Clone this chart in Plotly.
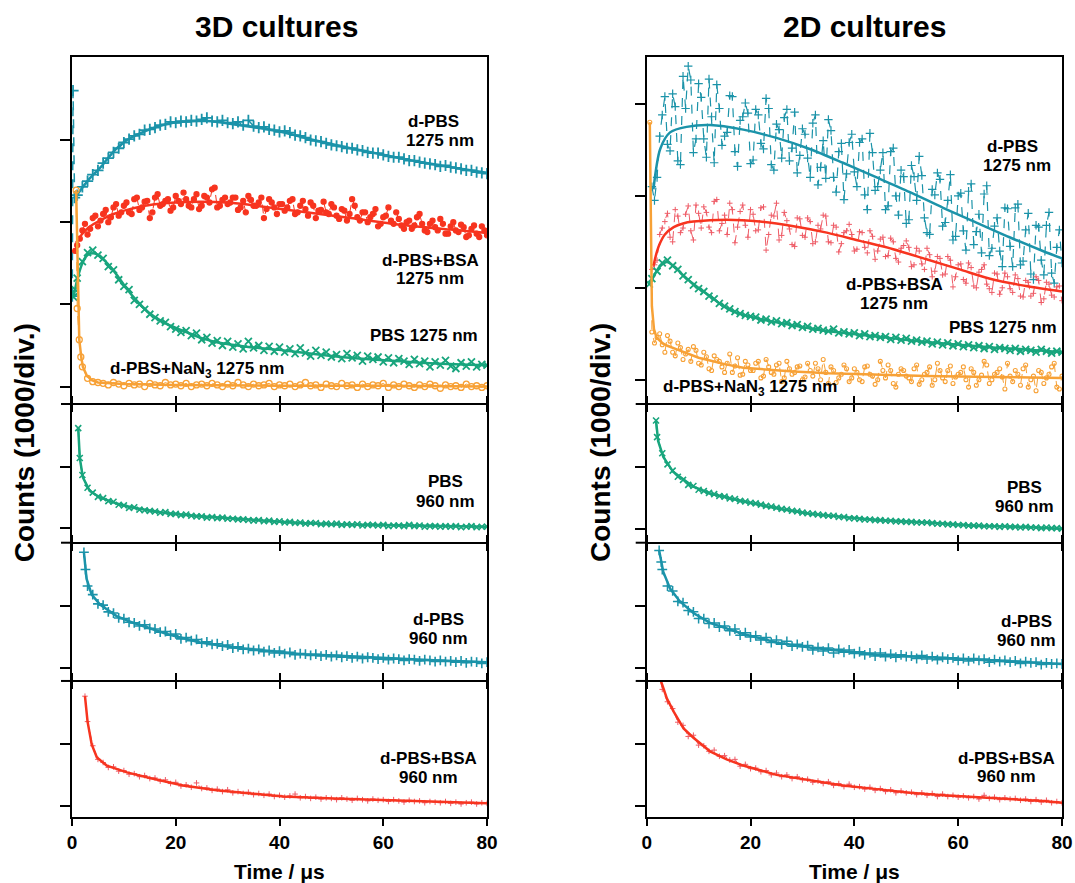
import plotly.graph_objects as go

# ---------------- sampling grids (µs) ----------------
T = list(range(1, 81))
TH = [0.5 + i for i in range(80)]

# ---------------- 3D cultures, 1275 nm ----------------
L_DPBS_E_X = [0.05, 0.2, 0.5]
L_DPBS_E_Y = [1.1, 3.6, 2.3]
L_DPBS = [2.33, 2.43, 2.50, 2.58, 2.63, 2.72, 2.78, 2.85, 2.90, 2.97,
          3.01, 3.05, 3.07, 3.12, 3.13, 3.15, 3.18, 3.19, 3.22, 3.21,
          3.23, 3.22, 3.24, 3.23, 3.25, 3.27, 3.23, 3.22, 3.24, 3.21,
          3.20, 3.22, 3.18, 3.24, 3.17, 3.15, 3.16, 3.13, 3.12, 3.10,
          3.11, 3.09, 3.06, 3.05, 3.03, 3.00, 2.99, 2.98, 2.96, 2.94,
          2.93, 2.92, 2.90, 2.90, 2.88, 2.87, 2.85, 2.84, 2.84, 2.82,
          2.80, 2.79, 2.79, 2.77, 2.75, 2.75, 2.73, 2.72, 2.71, 2.70,
          2.68, 2.69, 2.67, 2.66, 2.65, 2.63, 2.63, 2.61, 2.60, 2.59]
L_DPBS_FIT_X = [0.8, 2, 3.5, 5.4, 8, 10.6, 15, 19.5, 26, 32.4, 40.2, 47.2, 53.7, 60, 66.5, 73, 80]
L_DPBS_FIT_Y = [2.32, 2.42, 2.54, 2.66, 2.86, 3.0, 3.13, 3.21, 3.23, 3.18, 3.10, 2.99, 2.90, 2.82, 2.74, 2.67, 2.60]

L_BSA_E_X = [0.6]
L_BSA_E_Y = [1.65]
L_BSA = [1.72, 1.90, 1.85, 2.05, 1.95, 2.10, 2.00, 2.18, 2.08, 2.20,
         2.12, 2.28, 2.15, 2.25, 2.05, 2.30, 2.20, 2.26, 2.14, 2.32,
         2.22, 2.28, 2.18, 2.34, 2.20, 2.30, 2.40, 2.18, 2.27, 2.22,
         2.30, 2.15, 2.26, 2.32, 2.20, 2.24, 2.05, 2.28, 2.18, 2.22,
         2.14, 2.26, 2.10, 2.20, 2.16, 2.24, 2.05, 2.15, 2.12, 2.22,
         2.08, 2.16, 2.02, 2.28, 2.06, 2.12, 2.00, 2.10, 1.95, 2.06,
         2.18, 1.98, 2.04, 1.92, 2.02, 1.96, 2.10, 1.90, 1.98, 1.94,
         2.04, 1.86, 1.95, 1.90, 1.97, 1.82, 1.92, 1.86, 1.95, 1.84]
L_BSA_H = [None, 1.80, 1.98, 1.92, 2.08, 2.02, 2.15, 2.06, 2.22, 2.12,
           2.24, 2.10, 2.30, 2.18, 2.26, 2.12, 2.34, 2.22, 2.28, 2.18,
           2.26, 2.36, 2.20, 2.28, 2.16, 2.32, 2.24, 2.42, 2.20, 2.30,
           2.24, 2.30, 2.18, 2.12, 2.27, 2.20, 2.30, 2.16, 2.24, 2.10,
           2.22, 2.18, 2.28, 2.12, 2.26, 2.08, 2.20, 2.14, 2.25, 2.10,
           2.18, 2.04, 2.14, 2.10, 2.20, 2.02, 2.12, 2.06, 2.16, 1.98,
           2.08, 2.02, 2.12, 1.96, 2.00, 1.92, 2.06, 1.98, 1.88, 2.02,
           1.90, 1.98, 1.86, 2.00, 1.88, 1.94, 1.84, 1.96, 1.82, 1.90]
L_BSA_FIT_X = [0.8, 2, 3.5, 5.4, 8, 10.6, 15, 20, 24.7, 30, 34.4, 44, 53.7, 63.3, 73, 80]
L_BSA_FIT_Y = [1.75, 1.86, 1.95, 2.02, 2.10, 2.15, 2.21, 2.24, 2.25, 2.24, 2.21, 2.13, 2.05, 1.97, 1.91, 1.87]

L_PBS_E_X = [0.3, 0.6]
L_PBS_E_Y = [1.09, 1.18]
L_PBS = [1.32, 1.52, 1.63, 1.66, 1.60, 1.56, 1.46, 1.42, 1.30, 1.22,
         1.18, 1.05, 1.00, 0.94, 0.88, 0.84, 0.80, 0.78, 0.73, 0.70,
         0.66, 0.68, 0.62, 0.65, 0.57, 0.60, 0.53, 0.56, 0.50, 0.55,
         0.48, 0.52, 0.46, 0.55, 0.47, 0.50, 0.44, 0.49, 0.43, 0.48,
         0.42, 0.46, 0.40, 0.47, 0.41, 0.37, 0.44, 0.38, 0.42, 0.36,
         0.39, 0.34, 0.40, 0.35, 0.38, 0.31, 0.37, 0.33, 0.36, 0.30,
         0.35, 0.29, 0.34, 0.31, 0.27, 0.33, 0.28, 0.31, 0.24, 0.30,
         0.26, 0.32, 0.25, 0.22, 0.29, 0.25, 0.30, 0.24, 0.27, 0.26]
L_PBS_FIT_X = [0.3, 1, 2, 3, 4.4, 6, 7.9, 10, 11.7, 15, 18, 21.4, 25, 27.9, 34.4, 40.8, 50.5, 60.2, 70, 80]
L_PBS_FIT_Y = [1.09, 1.30, 1.50, 1.60, 1.62, 1.55, 1.42, 1.24, 1.10, 0.89, 0.77, 0.68, 0.59, 0.54, 0.48, 0.44, 0.37, 0.32, 0.28, 0.26]

L_NAN3_E_X = [0.8, 1.4, 1.7]
L_NAN3_E_Y = [2.39, 0.57, 0.36]
L_NAN3 = [0.95, 0.24, 0.10, 0.06, 0.05, 0.04, 0.02, 0.05, 0.03, 0.01,
          0.04, 0.02, 0.03, 0.00, 0.04, 0.02, 0.01, 0.05, 0.02, 0.03,
          0.01, 0.04, 0.00, 0.02, 0.03, 0.01, 0.04, 0.02, 0.00, 0.03,
          0.01, 0.05, 0.02, 0.00, 0.03, 0.01, 0.02, 0.04, 0.00, 0.02,
          0.01, 0.03, 0.00, 0.02, 0.05, 0.01, 0.02, -0.01, 0.03, 0.01,
          0.00, 0.04, 0.01, 0.02, -0.01, 0.03, 0.00, 0.02, 0.01, 0.04,
          -0.01, 0.02, 0.00, 0.03, 0.01, -0.01, 0.02, 0.00, 0.03, 0.01,
          -0.02, 0.02, 0.00, 0.01, -0.01, 0.03, 0.00, 0.01, -0.01, 0.01]
L_NAN3_FIT_X = [0.8, 1.1, 1.4, 1.8, 2.1, 2.8, 3.7, 5, 7, 10, 20, 40, 60, 80]
L_NAN3_FIT_Y = [2.39, 1.2, 0.57, 0.35, 0.24, 0.14, 0.08, 0.05, 0.04, 0.03, 0.02, 0.01, 0.01, 0.0]

# ---------------- 2D cultures, 1275 nm ----------------
R_DPBS = [2.10, 2.20, 2.88, 2.56, 3.11, 2.38, 3.30, 3.41, 2.47, 3.22,
          2.62, 3.27, 2.36, 2.95, 2.65, 3.09, 2.48, 2.82, 3.01, 2.35,
          2.94, 2.57, 3.06, 2.34, 2.78, 2.41, 2.94, 2.52, 2.25, 2.73,
          2.41, 2.79, 2.12, 2.60, 2.83, 2.20, 2.48, 1.96, 2.58, 2.26,
          2.58, 2.01, 2.68, 2.06, 2.28, 1.85, 2.48, 2.00, 2.28, 1.70,
          2.33, 1.95, 2.22, 1.60, 2.07, 2.25, 1.67, 1.95, 1.52, 2.00,
          1.62, 2.05, 1.47, 1.80, 2.02, 1.35, 1.67, 1.40, 1.87, 1.45,
          1.87, 1.25, 1.63, 1.15, 1.68, 1.30, 1.68, 1.16, 1.44, 1.27]
R_DPBS_H = [None, 1.95, 2.65, 3.08, 2.49, 2.97, 2.34, 2.95, 3.26, 2.62,
            3.07, 2.42, 2.86, 3.21, 2.55, 2.69, 3.08, 2.32, 2.86, 2.90,
            2.39, 2.88, 2.51, 2.95, 2.28, 2.72, 2.85, 2.38, 2.91, 2.44,
            2.67, 2.20, 2.88, 2.31, 2.19, 2.71, 2.04, 2.57, 2.24, 2.67,
            2.10, 2.62, 1.85, 2.47, 2.10, 2.47, 1.89, 2.52, 1.79, 2.21,
            1.74, 2.21, 2.43, 1.76, 1.58, 2.01, 2.18, 1.71, 2.23, 1.56,
            2.03, 1.41, 2.13, 1.61, 1.38, 2.11, 1.43, 1.76, 1.23, 1.86,
            1.23, 1.91, 1.29, 1.81, 1.09, 1.66, 1.14, 1.82, 1.05, 1.63]
R_DPBS_FIT_X = [1.3, 2.6, 4.5, 7.7, 12.2, 18.6, 25, 31.4, 37.8, 44.3, 50.7, 57.1, 63.5, 69.9, 76.3, 80]
R_DPBS_FIT_Y = [2.07, 2.51, 2.69, 2.75, 2.77, 2.72, 2.63, 2.51, 2.36, 2.20, 2.04, 1.87, 1.71, 1.55, 1.40, 1.32]

R_BSA = [1.20, 1.30, 1.65, 1.81, 1.50, 1.78, 1.65, 1.89, 1.52, 1.81,
         1.88, 1.66, 1.94, 1.62, 1.79, 1.92, 1.49, 1.83, 1.68, 1.85,
         1.62, 1.87, 1.41, 1.79, 1.92, 1.57, 1.73, 1.47, 1.76, 1.57,
         1.76, 1.48, 1.68, 1.79, 1.50, 1.68, 1.39, 1.60, 1.69, 1.40,
         1.61, 1.44, 1.62, 1.31, 1.53, 1.34, 1.54, 1.32, 1.43, 1.51,
         1.23, 1.43, 1.26, 1.43, 1.12, 1.34, 1.14, 1.34, 1.01, 1.25,
         1.09, 1.27, 1.02, 1.17, 1.25, 0.99, 1.16, 0.93, 1.16, 0.99,
         1.14, 0.91, 1.08, 0.91, 1.12, 0.84, 1.06, 0.92, 1.01, 0.86]
R_BSA_H = [None, 1.25, 1.58, 1.72, 1.55, 1.85, 1.60, 1.80, 1.62, 1.90,
           1.65, 1.82, 1.60, 1.96, 1.70, 1.58, 1.85, 1.66, 1.90, 1.55,
           1.80, 1.63, 1.88, 1.58, 1.78, 1.52, 1.82, 1.64, 1.45, 1.75,
           1.55, 1.72, 1.50, 1.64, 1.78, 1.49, 1.66, 1.48, 1.62, 1.58,
           1.42, 1.60, 1.38, 1.56, 1.40, 1.55, 1.35, 1.50, 1.28, 1.46,
           1.44, 1.25, 1.40, 1.20, 1.36, 1.18, 1.32, 1.15, 1.30, 1.12,
           1.26, 1.05, 1.22, 1.00, 1.20, 1.04, 0.95, 1.15, 1.00, 1.12,
           0.95, 1.10, 0.90, 1.06, 0.94, 1.08, 0.88, 1.04, 0.90, 1.02]
R_BSA_FIT_X = [1.3, 2.0, 2.6, 3.5, 5.2, 7, 9.0, 15.4, 21.8, 28.3, 34.7, 41.1, 47.5, 53.9, 60.3, 66.7, 73.1, 80]
R_BSA_FIT_Y = [1.24, 1.40, 1.49, 1.58, 1.66, 1.70, 1.72, 1.74, 1.72, 1.67, 1.60, 1.51, 1.42, 1.31, 1.20, 1.09, 1.02, 0.96]

R_PBS_E_X = [0.5]
R_PBS_E_Y = [1.04]
R_PBS = [1.10, 1.18, 1.27, 1.30, 1.24, 1.20, 1.13, 1.09, 1.03, 0.99,
         0.96, 0.91, 0.88, 0.83, 0.80, 0.77, 0.74, 0.72, 0.70, 0.69,
         0.68, 0.65, 0.66, 0.63, 0.64, 0.61, 0.62, 0.59, 0.60, 0.57,
         0.58, 0.55, 0.56, 0.54, 0.53, 0.55, 0.51, 0.52, 0.50, 0.51,
         0.48, 0.50, 0.47, 0.48, 0.46, 0.47, 0.44, 0.46, 0.43, 0.45,
         0.42, 0.43, 0.41, 0.42, 0.39, 0.41, 0.38, 0.40, 0.37, 0.39,
         0.36, 0.38, 0.35, 0.37, 0.34, 0.36, 0.33, 0.35, 0.34, 0.32,
         0.34, 0.31, 0.33, 0.32, 0.30, 0.33, 0.31, 0.29, 0.31, 0.30]
R_PBS_FIT_X = [0.5, 1.3, 2.5, 3.9, 5.5, 7.7, 10, 12.2, 14.5, 16.7, 21.8, 28.3, 34.7, 41.1, 47.5, 53.9, 60.3, 66.7, 73.1, 80]
R_PBS_FIT_Y = [1.04, 1.12, 1.23, 1.28, 1.22, 1.10, 1.00, 0.91, 0.81, 0.74, 0.66, 0.59, 0.53, 0.49, 0.45, 0.41, 0.38, 0.35, 0.33, 0.30]

R_NAN3_E_X = [0.6]
R_NAN3_E_Y = [2.8]
R_NAN3 = [0.52, 0.46, 0.38, 0.48, 0.30, 0.40, 0.22, 0.33, 0.36, 0.18,
          0.30, 0.12, 0.26, 0.20, 0.08, 0.28, 0.15, 0.05, 0.20, 0.10,
          0.18, 0.02, 0.22, 0.08, 0.16, -0.02, 0.20, 0.06, 0.14, 0.00,
          0.18, 0.04, 0.12, 0.22, -0.04, 0.10, 0.02, 0.16, -0.02, 0.12,
          0.00, 0.14, 0.06, -0.05, 0.20, 0.02, 0.10, -0.08, 0.12, 0.04,
          -0.02, 0.16, 0.00, 0.08, -0.06, 0.18, 0.02, 0.10, -0.04, 0.06,
          0.14, -0.08, 0.08, 0.00, 0.20, -0.04, 0.06, 0.12, -0.10, 0.04,
          0.10, -0.06, 0.16, 0.00, -0.12, 0.08, 0.02, 0.14, -0.08, 0.04]
R_NAN3_H = [None, 0.40, 0.50, 0.30, 0.42, 0.26, 0.35, 0.28, 0.20, 0.32,
            0.16, 0.25, 0.10, 0.22, 0.14, 0.18, 0.08, 0.24, 0.06, 0.16,
            0.10, 0.20, 0.04, 0.14, 0.06, 0.18, 0.02, 0.12, 0.08, 0.15,
            0.03, 0.10, 0.18, 0.00, 0.08, 0.14, -0.03, 0.06, 0.12, 0.02,
            0.08, -0.02, 0.15, 0.04, 0.00, 0.10, 0.16, -0.04, 0.06, 0.10,
            0.02, 0.12, -0.05, 0.06, 0.14, 0.00, 0.10, -0.02, 0.15, 0.03,
            0.08, 0.00, 0.12, -0.06, 0.05, 0.16, 0.00, 0.08, 0.03, 0.18,
            -0.02, 0.06, 0.12, -0.08, 0.04, 0.10, -0.04, 0.06, 0.18, -0.10]
R_NAN3_FIT_X = [0.6, 0.8, 1.0, 1.4, 1.9, 3, 4, 5.8, 8, 10, 12.2, 15, 18.6, 23, 28.3, 35, 41.1, 53.9, 66.7, 80]
R_NAN3_FIT_Y = [2.80, 1.5, 0.80, 0.55, 0.46, 0.40, 0.37, 0.33, 0.28, 0.24, 0.21, 0.17, 0.13, 0.11, 0.09, 0.07, 0.06, 0.04, 0.03, 0.02]

# ---------------- 960 nm panels ----------------
L_PBS960_E_X = [1.2, 1.5]
L_PBS960_E_Y = [1.64, 1.15]
L_PBS960 = [None, 0.87, 0.66, 0.58, 0.51, 0.49, 0.44, 0.43, 0.38, 0.37,
            0.33, 0.34, 0.30, 0.29, 0.28, 0.27, 0.25, 0.26, 0.23, 0.23,
            0.21, 0.22, 0.20, 0.19, 0.19, 0.17, 0.18, 0.16, 0.17, 0.15,
            0.15, 0.14, 0.14, 0.13, 0.12, 0.13, 0.11, 0.12, 0.10, 0.11,
            0.09, 0.10, 0.08, 0.09, 0.07, 0.08, 0.08, 0.06, 0.07, 0.06,
            0.07, 0.05, 0.06, 0.05, 0.06, 0.04, 0.05, 0.05, 0.04, 0.05,
            0.03, 0.04, 0.04, 0.03, 0.05, 0.03, 0.04, 0.02, 0.03, 0.03,
            0.02, 0.03, 0.02, 0.03, 0.01, 0.02, 0.03, 0.01, 0.02, 0.02]
L_PBS960_FIT_X = [1.2, 1.5, 2.1, 3.4, 5.4, 8.6, 11.8, 18.3, 24.7, 31.1, 37.6, 44, 50.5, 63.3, 80]
L_PBS960_FIT_Y = [1.64, 1.15, 0.83, 0.61, 0.50, 0.40, 0.33, 0.24, 0.19, 0.15, 0.11, 0.08, 0.06, 0.04, 0.02]

R_PBS960_E_X = [1.8]
R_PBS960_E_Y = [1.75]
R_PBS960 = [None, 1.48, 1.22, 1.04, 0.94, 0.84, 0.79, 0.71, 0.69, 0.63,
            0.61, 0.58, 0.56, 0.53, 0.52, 0.49, 0.48, 0.45, 0.44, 0.42,
            0.41, 0.39, 0.37, 0.36, 0.34, 0.32, 0.31, 0.29, 0.28, 0.26,
            0.25, 0.24, 0.23, 0.22, 0.21, 0.21, 0.19, 0.19, 0.17, 0.17,
            0.16, 0.15, 0.15, 0.14, 0.14, 0.13, 0.13, 0.12, 0.12, 0.11,
            0.11, 0.10, 0.10, 0.10, 0.09, 0.08, 0.08, 0.07, 0.07, 0.06,
            0.06, 0.05, 0.05, 0.05, 0.04, 0.04, 0.04, 0.03, 0.04, 0.03,
            0.03, 0.02, 0.03, 0.02, 0.02, 0.01, 0.02, 0.01, 0.01, 0.00]
R_PBS960_FIT_X = [1.8, 2.2, 3.2, 5.1, 9.0, 12.2, 18.6, 25, 31.4, 37.8, 44.3, 53.9, 63.5, 73.1, 80]
R_PBS960_FIT_Y = [1.75, 1.42, 1.16, 0.92, 0.68, 0.57, 0.44, 0.33, 0.24, 0.19, 0.14, 0.10, 0.05, 0.03, 0.00]

L_DPBS960_E_X = [2.3, 2.6]
L_DPBS960_E_Y = [1.88, 1.60]
L_DPBS960 = [None, None, 1.33, 1.19, 1.04, 1.02, 0.91, 0.89, 0.81, 0.80,
             0.74, 0.73, 0.68, 0.70, 0.64, 0.63, 0.58, 0.59, 0.53, 0.55,
             0.47, 0.49, 0.44, 0.46, 0.40, 0.42, 0.38, 0.39, 0.35, 0.37,
             0.32, 0.34, 0.30, 0.31, 0.28, 0.30, 0.26, 0.28, 0.24, 0.27,
             0.23, 0.25, 0.21, 0.23, 0.22, 0.20, 0.22, 0.19, 0.21, 0.18,
             0.20, 0.17, 0.19, 0.16, 0.18, 0.15, 0.17, 0.16, 0.14, 0.16,
             0.13, 0.15, 0.14, 0.12, 0.14, 0.13, 0.11, 0.13, 0.12, 0.10,
             0.12, 0.10, 0.11, 0.09, 0.11, 0.08, 0.10, 0.09, 0.07, 0.09]
L_DPBS960_FIT_X = [2.3, 2.8, 3.8, 5.4, 8.6, 11.8, 18.3, 24.7, 31.1, 37.6, 44, 50.5, 56.9, 63.3, 69.8, 80]
L_DPBS960_FIT_Y = [1.88, 1.45, 1.19, 1.03, 0.84, 0.73, 0.55, 0.41, 0.33, 0.27, 0.22, 0.20, 0.17, 0.14, 0.12, 0.09]

R_DPBS960_E_X = [2.4, 2.8]
R_DPBS960_E_Y = [1.91, 1.72]
R_DPBS960 = [None, None, 1.60, 1.33, 1.25, 1.08, 1.06, 0.93, 0.91, 0.80,
             0.80, 0.72, 0.73, 0.66, 0.68, 0.60, 0.63, 0.53, 0.57, 0.50,
             0.52, 0.45, 0.49, 0.41, 0.45, 0.38, 0.43, 0.35, 0.38, 0.34,
             0.36, 0.29, 0.33, 0.27, 0.32, 0.24, 0.30, 0.25, 0.29, 0.23,
             0.26, 0.21, 0.24, 0.19, 0.24, 0.18, 0.22, 0.17, 0.21, 0.18,
             0.19, 0.15, 0.20, 0.14, 0.18, 0.13, 0.17, 0.14, 0.16, 0.12,
             0.15, 0.11, 0.15, 0.12, 0.14, 0.09, 0.13, 0.10, 0.12, 0.09,
             0.11, 0.07, 0.10, 0.08, 0.09, 0.05, 0.08, 0.06, 0.07, 0.06]
R_DPBS960_FIT_X = [2.4, 3.2, 4.5, 6.4, 9.0, 12.2, 18.6, 25, 31.4, 37.8, 44.3, 53.9, 63.5, 73.1, 80]
R_DPBS960_FIT_Y = [1.91, 1.56, 1.29, 1.08, 0.89, 0.73, 0.55, 0.41, 0.33, 0.27, 0.21, 0.17, 0.13, 0.09, 0.06]

L_BSA960_E_X = [2.5]
L_BSA960_E_Y = [1.77]
L_BSA960 = [None, None, 1.36, 0.97, 0.75, 0.70, 0.62, 0.63, 0.56, 0.57,
            0.51, 0.52, 0.47, 0.49, 0.44, 0.45, 0.40, 0.42, 0.36, 0.38,
            0.32, 0.34, 0.30, 0.37, 0.28, 0.29, 0.25, 0.27, 0.23, 0.26,
            0.21, 0.23, 0.20, 0.22, 0.18, 0.20, 0.17, 0.19, 0.15, 0.17,
            0.14, 0.16, 0.19, 0.13, 0.15, 0.12, 0.14, 0.11, 0.13, 0.12,
            0.10, 0.13, 0.11, 0.09, 0.12, 0.10, 0.08, 0.11, 0.09, 0.10,
            0.07, 0.10, 0.08, 0.06, 0.09, 0.07, 0.08, 0.05, 0.07, 0.06,
            0.05, 0.07, 0.04, 0.06, 0.03, 0.05, 0.06, 0.03, 0.05, 0.04]
L_BSA960_FIT_X = [2.5, 3.0, 3.8, 4.8, 6.7, 10.6, 15, 21.4, 27.9, 34.4, 40.8, 50.5, 60.2, 70, 80]
L_BSA960_FIT_Y = [1.77, 1.36, 0.99, 0.78, 0.65, 0.54, 0.45, 0.33, 0.25, 0.20, 0.15, 0.12, 0.09, 0.06, 0.04]

R_BSA960_E_X = [2.6]
R_BSA960_E_Y = [2.05]
R_BSA960 = [None, None, 1.88, 1.68, 1.57, 1.35, 1.30, 1.12, 1.14, 0.98,
            0.97, 0.88, 0.90, 0.80, 0.81, 0.74, 0.75, 0.64, 0.67, 0.60,
            0.61, 0.55, 0.57, 0.50, 0.53, 0.47, 0.50, 0.44, 0.47, 0.42,
            0.43, 0.38, 0.40, 0.36, 0.39, 0.33, 0.36, 0.31, 0.35, 0.30,
            0.31, 0.27, 0.30, 0.25, 0.28, 0.23, 0.26, 0.21, 0.24, 0.21,
            0.22, 0.18, 0.21, 0.17, 0.20, 0.15, 0.19, 0.15, 0.17, 0.14,
            0.16, 0.13, 0.15, 0.11, 0.17, 0.12, 0.14, 0.10, 0.13, 0.11,
            0.12, 0.09, 0.11, 0.07, 0.10, 0.06, 0.09, 0.05, 0.07, 0.05]
R_BSA960_FIT_X = [2.6, 3.9, 5.2, 7.1, 9.0, 12.2, 15.4, 18.6, 25, 31.4, 37.8, 44.3, 50.7, 57.1, 63.5, 69.9, 76.3, 80]
R_BSA960_FIT_Y = [2.05, 1.73, 1.52, 1.25, 1.10, 0.88, 0.75, 0.65, 0.50, 0.41, 0.33, 0.27, 0.21, 0.17, 0.14, 0.12, 0.08, 0.05]

X_TICKS = [0, 20, 40, 60, 80]

# ---------------- styling ----------------
TEAL = "#1b93a9"
RED = "#f7341f"
RED_LIGHT = "#ee5b66"
GREEN = "#18a57d"
ORANGE = "#f7a136"
FONT = "Liberation Sans"


def merged(ex, ey, grid, half=None):
    assert len(grid) == len(T), len(grid)
    xs = list(ex) + T
    ys = list(ey) + list(grid)
    if half is not None:
        assert len(half) == len(TH), len(half)
        xs += TH
        ys += list(half)
    pts = sorted([(x, y) for x, y in zip(xs, ys) if y is not None], key=lambda p: p[0])
    return [p[0] for p in pts], [p[1] for p in pts]


fig = go.Figure()


def add_data(n, ex, ey, grid, color, symbol, size, lw=1.3, dash="dash", dlw=1.0, half=None):
    xs, ys = merged(ex, ey, grid, half)
    fig.add_trace(go.Scatter(
        x=xs, y=ys, mode="lines+markers", xaxis=f"x{n}", yaxis=f"y{n}",
        line=dict(color=color, width=dlw, dash=dash),
        marker=dict(symbol=symbol, size=size, color=color, line=dict(color=color, width=lw)),
        showlegend=False, hoverinfo="skip"))


def add_fit(n, fx, fy, color, width=2.5, shape="spline"):
    fig.add_trace(go.Scatter(
        x=fx, y=fy, mode="lines", xaxis=f"x{n}", yaxis=f"y{n}",
        line=dict(color=color, width=width, shape=shape, smoothing=0.8),
        showlegend=False, hoverinfo="skip"))


# Left column (3D)
add_data(1, L_DPBS_E_X, L_DPBS_E_Y, L_DPBS, TEAL, "cross-thin", 8, 1.8, dlw=1.5)
add_fit(1, L_DPBS_FIT_X, L_DPBS_FIT_Y, TEAL)
add_data(1, L_BSA_E_X, L_BSA_E_Y, L_BSA, RED, "circle", 5, half=L_BSA_H)
add_fit(1, L_BSA_FIT_X, L_BSA_FIT_Y, RED)
add_data(1, L_PBS_E_X, L_PBS_E_Y, L_PBS, GREEN, "x-thin", 7, 1.8, dlw=1.5)
add_fit(1, L_PBS_FIT_X, L_PBS_FIT_Y, GREEN)
add_data(1, L_NAN3_E_X, L_NAN3_E_Y, L_NAN3, ORANGE, "circle-open", 6, 1.3)
add_fit(1, L_NAN3_FIT_X, L_NAN3_FIT_Y, ORANGE, shape="linear")

add_data(2, L_PBS960_E_X, L_PBS960_E_Y, L_PBS960, GREEN, "x-thin", 6, 1.6, dlw=1.5)
add_fit(2, L_PBS960_FIT_X, L_PBS960_FIT_Y, GREEN, shape="linear")
add_data(3, L_DPBS960_E_X, L_DPBS960_E_Y, L_DPBS960, TEAL, "cross-thin", 7, 1.6, dlw=1.5)
add_fit(3, L_DPBS960_FIT_X, L_DPBS960_FIT_Y, TEAL, shape="linear")
add_data(4, L_BSA960_E_X, L_BSA960_E_Y, L_BSA960, RED_LIGHT, "cross-thin", 4, 1.0)
add_fit(4, L_BSA960_FIT_X, L_BSA960_FIT_Y, RED, shape="linear")

# Right column (2D)
add_data(5, [], [], R_DPBS, TEAL, "cross-thin", 6, 1.2, dlw=1.2, half=R_DPBS_H)
add_fit(5, R_DPBS_FIT_X, R_DPBS_FIT_Y, TEAL)
add_data(5, [], [], R_BSA, RED_LIGHT, "cross-thin", 4, 1.0, half=R_BSA_H)
add_fit(5, R_BSA_FIT_X, R_BSA_FIT_Y, RED)
add_data(5, R_PBS_E_X, R_PBS_E_Y, R_PBS, GREEN, "x-thin", 7, 1.8, dlw=1.5)
add_fit(5, R_PBS_FIT_X, R_PBS_FIT_Y, GREEN)
add_data(5, R_NAN3_E_X, R_NAN3_E_Y, R_NAN3, ORANGE, "circle-open", 4, 1.1, half=R_NAN3_H)
add_fit(5, R_NAN3_FIT_X, R_NAN3_FIT_Y, ORANGE, shape="linear")

add_data(6, R_PBS960_E_X, R_PBS960_E_Y, R_PBS960, GREEN, "x-thin", 6, 1.6, dlw=1.5)
add_fit(6, R_PBS960_FIT_X, R_PBS960_FIT_Y, GREEN, shape="linear")
add_data(7, R_DPBS960_E_X, R_DPBS960_E_Y, R_DPBS960, TEAL, "cross-thin", 7, 1.5)
add_fit(7, R_DPBS960_FIT_X, R_DPBS960_FIT_Y, TEAL, shape="linear")
add_data(8, R_BSA960_E_X, R_BSA960_E_Y, R_BSA960, RED_LIGHT, "cross-thin", 4, 1.0)
add_fit(8, R_BSA960_FIT_X, R_BSA960_FIT_Y, RED, shape="linear")

# ---------------- axes ----------------
XDOM_L = [0.0, 0.4192]
XDOM_R = [0.5805, 1.0]
GAP = 0.0026
YDOMS = [[0.5447, 1.0], [0.3622, 0.5447 - GAP], [0.1803, 0.3622 - GAP], [0.0, 0.1803 - GAP]]
YRANGES = {1: [-0.2, 4.01], 2: [-0.227, 2.02], 3: [-0.2, 2.02], 4: [-0.18, 2.0],
           5: [-0.253, 3.51], 6: [-0.21, 2.0], 7: [-0.2, 2.02], 8: [-0.18, 2.0]}

layout_axes = {}
for n in range(1, 9):
    col = 0 if n <= 4 else 1
    row = (n - 1) % 4
    layout_axes[f"xaxis{n}"] = dict(
        domain=XDOM_L if col == 0 else XDOM_R, anchor=f"y{n}", range=[0, 80],
        tickvals=X_TICKS, ticks="outside", ticklen=7, tickwidth=2, tickcolor="black",
        showticklabels=(row == 3), showline=True, linewidth=2, linecolor="black",
        mirror=True if row == 0 else "ticks", showgrid=False, zeroline=False,
        tickfont=dict(family=FONT, size=19, color="black", weight="bold"))
    top = 3 if row == 0 else 1
    layout_axes[f"yaxis{n}"] = dict(
        domain=YDOMS[row], anchor=f"x{n}", range=YRANGES[n],
        tickvals=list(range(0, top + 1)), ticks="outside", ticklen=10, tickwidth=2,
        tickcolor="black", showticklabels=False, showline=True, linewidth=2,
        linecolor="black", mirror=True, showgrid=False, zeroline=False)

fig.update_layout(**layout_axes)

# boundary ticks on the left of each column
shapes = []
for x0 in (XDOM_L[0], XDOM_R[0]):
    for yb in (0.5447 - GAP / 2, 0.3622 - GAP / 2, 0.1803 - GAP / 2):
        shapes.append(dict(type="line", xref="paper", yref="paper",
                           x0=x0 - 0.0111, x1=x0, y0=yb, y1=yb,
                           line=dict(color="black", width=2)))

# ---------------- text ----------------
ann = []


def label(n, x, y, text, size=17):
    ann.append(dict(x=x, y=y, xref=f"x{n}", yref=f"y{n}", text=f"<b>{text}</b>",
                    showarrow=False, font=dict(family=FONT, size=size, color="black"),
                    xanchor="center", yanchor="middle"))


label(1, 69.7, 3.22, "d-PBS")
label(1, 71.0, 3.00, "1275 nm")
label(1, 69.1, 1.54, "d-PBS+BSA")
label(1, 69.1, 1.31, "1275 nm")
label(1, 67.8, 0.62, "PBS 1275 nm")
label(1, 24.1, 0.20, "d-PBS+NaN<sub>3</sub> 1275 nm")
label(2, 72.0, 0.76, "PBS")
label(2, 72.0, 0.43, "960 nm")
label(3, 70.7, 0.78, "d-PBS")
label(3, 70.7, 0.47, "960 nm")
label(4, 68.8, 0.77, "d-PBS+BSA")
label(4, 68.8, 0.46, "960 nm")

label(5, 70.5, 2.54, "d-PBS")
label(5, 71.3, 2.33, "1275 nm")
label(5, 47.8, 1.04, "d-PBS+BSA")
label(5, 47.6, 0.83, "1275 nm")
label(5, 68.6, 0.57, "PBS 1275 nm")
label(5, 19.9, -0.09, "d-PBS+NaN<sub>3</sub> 1275 nm")
label(6, 72.8, 0.67, "PBS")
label(6, 72.8, 0.36, "960 nm")
label(7, 73.1, 0.76, "d-PBS")
label(7, 73.1, 0.44, "960 nm")
label(8, 69.3, 0.77, "d-PBS+BSA")
label(8, 69.3, 0.47, "960 nm")


def paper_text(x, y, text, size, angle=0):
    ann.append(dict(x=x, y=y, xref="paper", yref="paper", text=f"<b>{text}</b>",
                    showarrow=False, textangle=angle,
                    font=dict(family=FONT, size=size, color="black"),
                    xanchor="center", yanchor="middle"))


paper_text(0.207, 1.0395, "3D cultures", 30)
paper_text(0.801, 1.0395, "2D cultures", 30)
paper_text(-0.0485, 0.493, "Counts (1000/div.)", 28, -90)
paper_text(0.534, 0.493, "Counts (1000/div.)", 28, -90)
paper_text(0.2096, -0.072, "Time / μs", 21)
paper_text(0.7899, -0.072, "Time / μs", 21)

fig.update_layout(
    width=1075, height=883,
    margin=dict(l=72, r=13, t=57, b=66, autoexpand=False),
    paper_bgcolor="white", plot_bgcolor="white",
    shapes=shapes, annotations=ann, showlegend=False,
    font=dict(family=FONT, color="black"))

fig.write_html("out.html")
